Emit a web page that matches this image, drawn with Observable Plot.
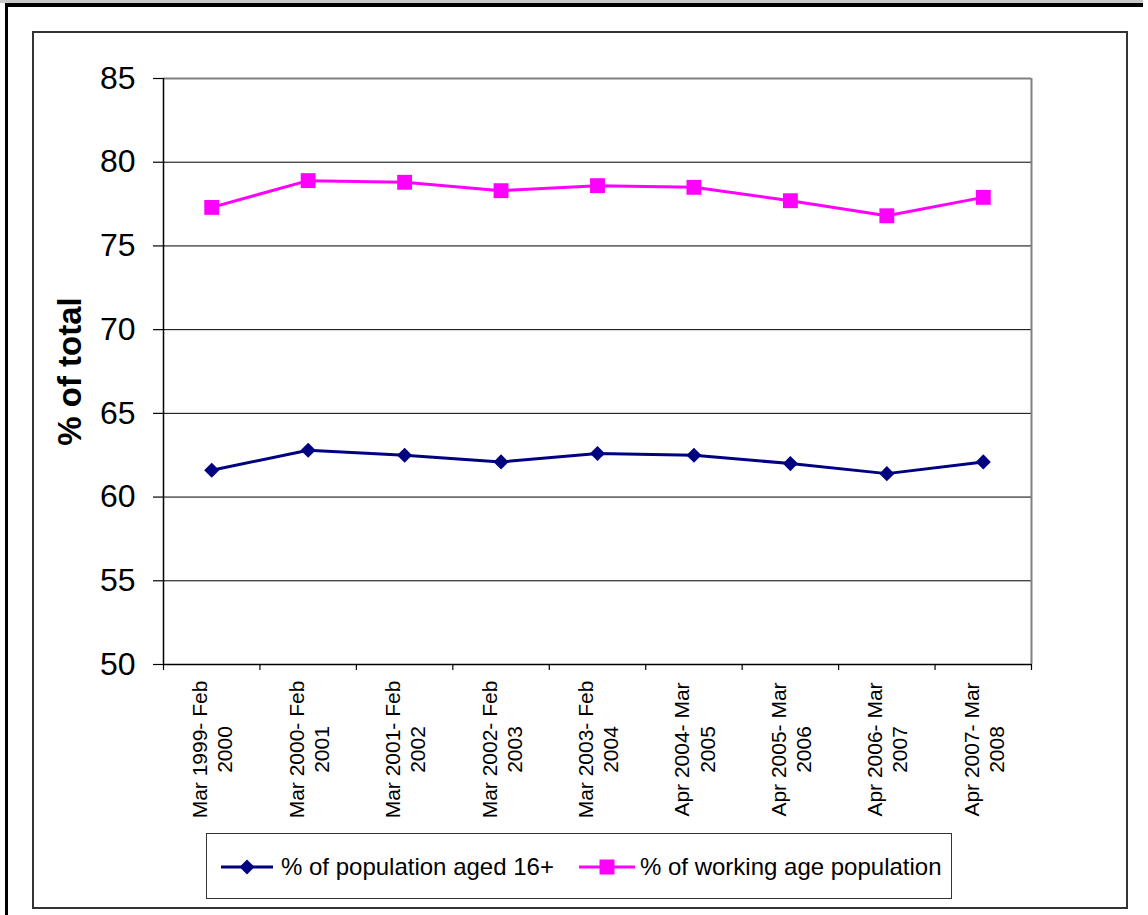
<!DOCTYPE html>
<html>
<head>
<meta charset="utf-8">
<script src="https://cdn.jsdelivr.net/npm/d3@7"></script>
<script src="https://cdn.jsdelivr.net/npm/@observablehq/plot@0.6"></script>
<style>
  html, body { margin: 0; padding: 0; background: #fff; width: 1148px; height: 915px; overflow: hidden; }
  body { position: relative; font-family: "Liberation Sans", Arial, sans-serif; }
  #grayTop { position: absolute; left: 0; top: 0; width: 1143px; height: 3px; background: #c8c8c8; }
  #blackTop { position: absolute; left: 5px; top: 3px; width: 1138px; height: 4px; background: #000; }
  #blackLeft { position: absolute; left: 5px; top: 3px; width: 3px; height: 912px; background: #000; }
  #inner { position: absolute; left: 32px; top: 31px; width: 1092px; height: 874px; border: 2px solid #333; box-sizing: content-box; }
  #chart { position: absolute; left: 33px; top: 31px; }
  #legend { position: absolute; left: 206px; top: 833px; width: 744px; height: 64px; border: 1.5px solid #333; background: #fff; }
  #legend svg { position: absolute; left: 0; top: 0; }
</style>
</head>
<body>
<div id="grayTop"></div>
<div id="blackTop"></div>
<div id="blackLeft"></div>
<div id="inner"></div>
<div id="chart"></div>
<div id="legend"></div>
<script>
const categories = [
  "Mar 1999- Feb\n2000",
  "Mar 2000- Feb\n2001",
  "Mar 2001- Feb\n2002",
  "Mar 2002- Feb\n2003",
  "Mar 2003- Feb\n2004",
  "Apr 2004- Mar\n2005",
  "Apr 2005- Mar\n2006",
  "Apr 2006- Mar\n2007",
  "Apr 2007- Mar\n2008"
];
const pop16 = [61.6, 62.8, 62.5, 62.1, 62.6, 62.5, 62.0, 61.4, 62.1];
const workingAge = [77.3, 78.9, 78.8, 78.3, 78.6, 78.5, 77.7, 76.8, 77.9];
const yTicks = [50, 55, 60, 65, 70, 75, 80, 85];
const seriesNames = ["% of population aged 16+", "% of working age population"];
const yTitle = "% of total";

const rows = categories.map((c, i) => ({
  label: c,
  pos: i + 0.5,
  pop16: pop16[i],
  working: workingAge[i]
}));
const xTickPositions = d3.range(categories.length + 1);

const W = 1093, H = 830;
const mL = 130, mT = 47, mR = 95, mB = H - 633;

const chart = Plot.plot({
  width: W,
  height: H,
  marginLeft: mL,
  marginTop: mT,
  marginRight: mR,
  marginBottom: mB,
  style: { fontFamily: "'Liberation Sans', Arial, sans-serif", background: "transparent", overflow: "visible", color: "#000" },
  x: { type: "linear", domain: [0, categories.length] },
  y: { domain: [50, 85] },
  marks: [
    Plot.gridY(yTicks.filter(t => t > 50 && t < 85), { stroke: "#000", strokeOpacity: 1, strokeWidth: 1 }),
    Plot.ruleY([85], { stroke: "#808080", strokeWidth: 2 }),
    Plot.ruleX([categories.length], { stroke: "#808080", strokeWidth: 2 }),
    Plot.ruleX([0], { stroke: "#000", strokeWidth: 1.5 }),
    Plot.ruleY([50], { stroke: "#000", strokeWidth: 1.5 }),
    Plot.axisY({ ticks: yTicks, tickSize: 10, tickPadding: 18, fontSize: 32, label: null, stroke: "#000", strokeWidth: 1.2 }),
    Plot.axisX({ ticks: xTickPositions, tickSize: 6, tickFormat: () => "", label: null, stroke: "#000", strokeWidth: 1.2 }),
    Plot.text(rows, { x: "pos", text: "label", frameAnchor: "bottom", rotate: -90, textAnchor: "middle", lineAnchor: "middle", lineHeight: 1.2, dy: 85, fontSize: 21, fill: "#000" }),
    Plot.text([yTitle], { frameAnchor: "left", rotate: -90, textAnchor: "middle", lineAnchor: "middle", dx: -93, fontSize: 33, fontWeight: "bold", fill: "#000" }),
    Plot.line(rows, { x: "pos", y: "working", stroke: "#FF00FF", strokeWidth: 3 }),
    Plot.dot(rows, { x: "pos", y: "working", symbol: "square", r: 8.4, fill: "#FF00FF", stroke: "none" }),
    Plot.line(rows, { x: "pos", y: "pop16", stroke: "#000080", strokeWidth: 3 }),
    Plot.dot(rows, { x: "pos", y: "pop16", symbol: "diamond2", r: 6.8, fill: "#000080", stroke: "none" })
  ]
});
document.getElementById("chart").appendChild(chart);

// Legend
const lg = d3.select("#legend").append("svg").attr("width", 744).attr("height", 64)
  .style("font-family", "'Liberation Sans', Arial, sans-serif");
const cy = 33;
const items = [
  { name: seriesNames[0], color: "#000080", x0: 14, x1: 66, sym: d3.symbolDiamond2, size: 143, tx: 74 },
  { name: seriesNames[1], color: "#FF00FF", x0: 372, x1: 428, sym: d3.symbolSquare, size: 225, tx: 433 }
];
items.forEach(it => {
  lg.append("line").attr("x1", it.x0).attr("x2", it.x1).attr("y1", cy).attr("y2", cy)
    .attr("stroke", it.color).attr("stroke-width", 3);
  lg.append("path").attr("d", d3.symbol(it.sym, it.size)())
    .attr("transform", `translate(${(it.x0 + it.x1) / 2},${cy})`).attr("fill", it.color);
  lg.append("text").attr("x", it.tx).attr("y", cy).attr("dy", "0.35em")
    .attr("font-size", 24).attr("fill", "#000").text(it.name);
});
</script>
</body>
</html>
